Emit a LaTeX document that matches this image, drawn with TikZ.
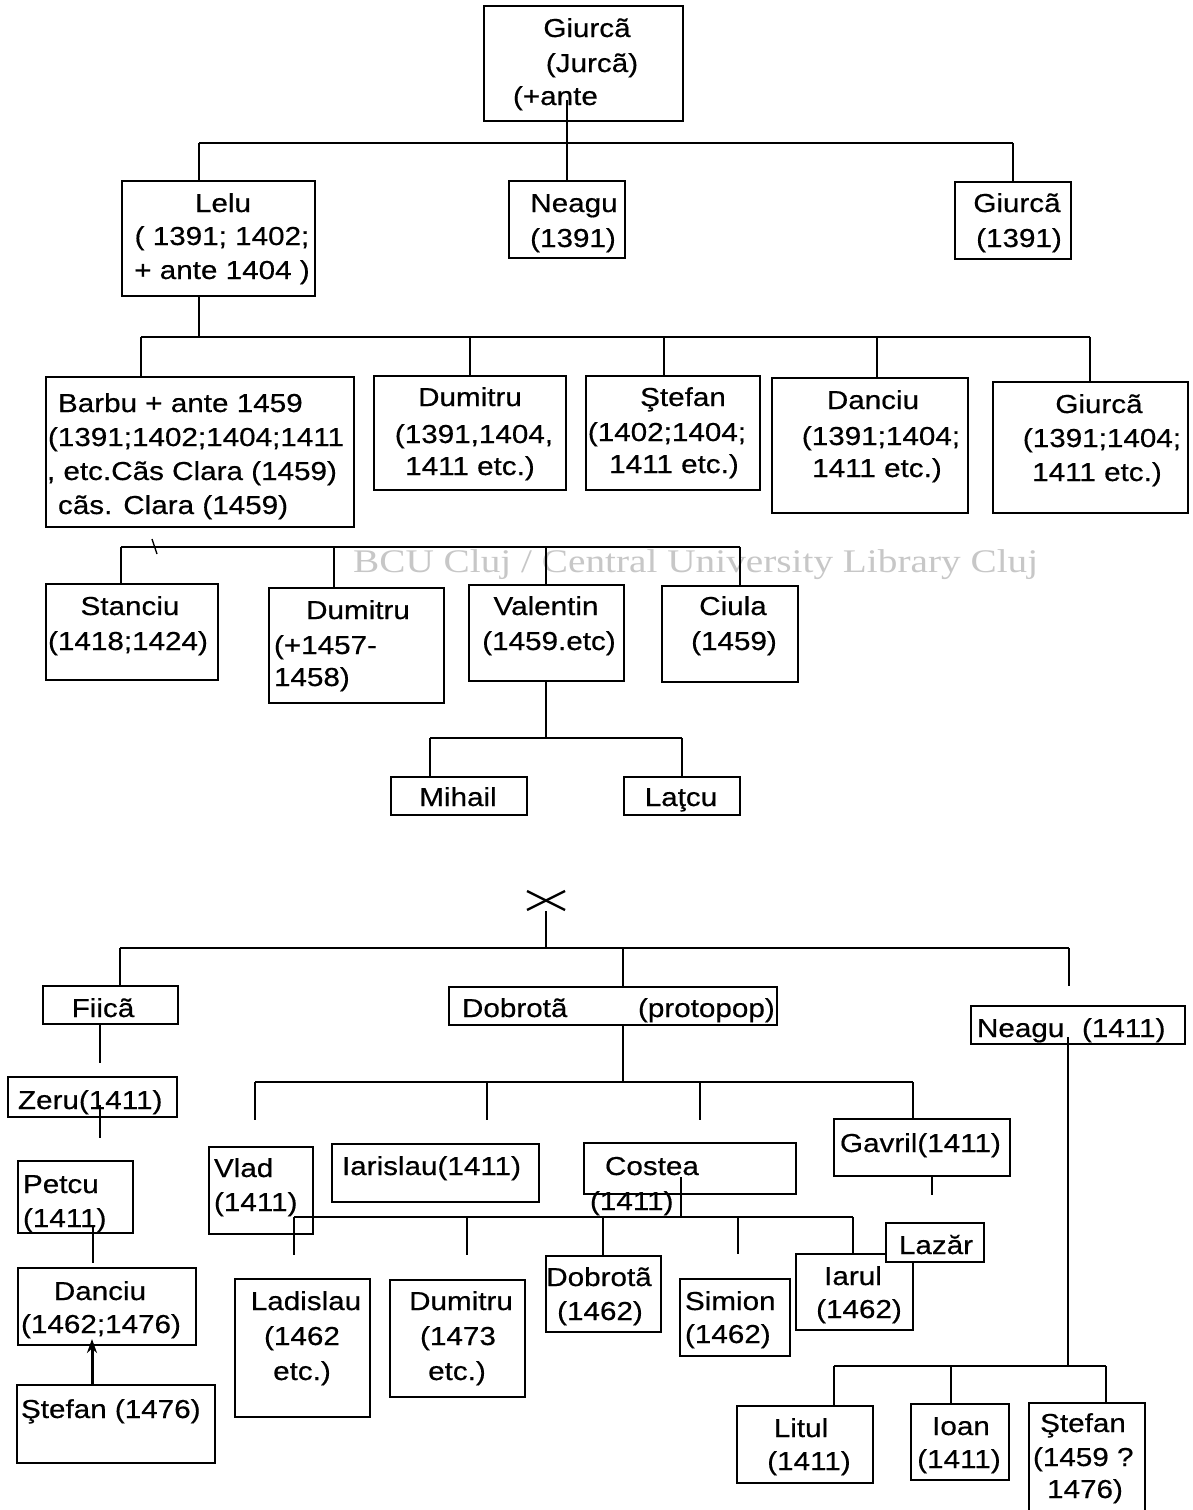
\documentclass[tikz,border=0pt]{standalone}
\usepackage{fontspec}
\setmainfont{Liberation Sans}[FakeStretch=1.14,FakeBold=0.5]
\newfontfamily\wmfont{Liberation Serif}[FakeStretch=1.19]
\usetikzlibrary{arrows.meta,calc}
\newcounter{tn}
\newcommand\tx[3]{\stepcounter{tn}\node[txt,anchor=base] (t\arabic{tn}) at (#1,#2) {#3};}
\newcommand\txl[3]{\stepcounter{tn}\node[txt,anchor=base west] (t\arabic{tn}) at (#1,#2) {#3};}
\newcommand\bx[6][]{\node[bx,#1,minimum width={(#5)-(#3)},minimum height={(#6)-(#4)}] (#2) at ({((#3)+(#5))/2},{((#4)+(#6))/2}) {};}
\tikzset{
  bx/.style={draw,line width=1.6pt,inner sep=0pt,outer sep=0pt,rectangle},
  txt/.style={inner sep=0pt,outer sep=0pt,font=\fontsize{26}{34}\selectfont},
  cn/.style={line width=1.4pt},
}
\begin{document}
\begin{tikzpicture}[x=1pt,y=-1pt]
\useasboundingbox (0,0) rectangle (1192,1510);
\fill[white] (0,0) rectangle (1192,1510);
\clip (0,0) rectangle (1192,1510);

% watermark
\node[font=\wmfont\fontsize{33}{40}\selectfont,text=black!22,anchor=base west,inner sep=0pt] (wm) at (353,572) {BCU Cluj / Central University Library Cluj};

% ---------- top tree ----------
\bx{G0}{484}{6}{683}{121}
\tx{587}{37}{Giurcã}
\tx{592}{72}{(Jurcã)}
\txl{513}{105}{(+ante}

\bx{Lelu}{122}{181}{315}{296}
\tx{223}{212}{Lelu}
\tx{222}{245}{( 1391; 1402;}
\tx{222}{279}{+ ante 1404 )}

\bx{Neagu}{509}{181}{625}{258}
\tx{574}{212}{Neagu}
\tx{573}{247}{(1391)}

\bx{GiA}{955}{182}{1071}{259}
\tx{1017}{212}{Giurcã}
\tx{1019}{247}{(1391)}

\coordinate (b1l) at (199,143);
\coordinate (b1r) at (1013,143);
\coordinate (g0s) at (567,100);
\draw[cn] (b1l) -- (b1r);
\draw[cn] (b1l) -- (b1l |- Lelu.north);
\draw[cn] (b1r) -- (b1r |- GiA.north);
\draw[cn] (g0s) -- (g0s |- Neagu.north);

% second row
\bx{Barbu}{46}{377}{354}{527}
\txl{58}{412}{Barbu + ante 1459}
\txl{48}{446}{(1391;1402;1404;1411}
\txl{47}{480}{, etc.Cãs Clara (1459)}
\txl{58}{514}{cãs. Clara (1459)}

\bx{DumA}{374}{376}{566}{490}
\tx{470}{406}{Dumitru}
\tx{474}{443}{(1391,1404,}
\tx{470}{475}{1411 etc.)}

\bx{StefA}{586}{376}{760}{490}
\tx{683}{406}{Ştefan}
\tx{667}{441}{(1402;1404;}
\tx{674}{473}{1411 etc.)}

\bx{DancA}{772}{378}{968}{513}
\tx{873}{409}{Danciu}
\tx{881}{445}{(1391;1404;}
\tx{877}{477}{1411 etc.)}

\bx{GiB}{993}{382}{1188}{513}
\tx{1099}{413}{Giurcã}
\tx{1102}{447}{(1391;1404;}
\tx{1097}{481}{1411 etc.)}

\coordinate (b2) at (199,337);
\coordinate (b2l) at (141,337);
\coordinate (b2r) at (1090,337);
\coordinate (b2s) at (664,337);
\coordinate (b2d) at (877,337);
\draw[cn] (b2 |- Lelu.south) -- (b2);
\draw[cn] (b2l) -- (b2r);
\draw[cn] (b2l) -- (b2l |- Barbu.north);
\draw[cn] (DumA.north |- b2) -- (DumA.north);
\draw[cn] (b2s) -- (b2s |- StefA.north);
\draw[cn] (b2d) -- (b2d |- DancA.north);
\draw[cn] (b2r) -- (b2r |- GiB.north);

% third row
\bx{Stan}{46}{584}{218}{680}
\tx{130}{615}{Stanciu}
\tx{128}{650}{(1418;1424)}

\bx{DumB}{269}{588}{444}{703}
\tx{358}{619}{Dumitru}
\txl{274}{654}{(+1457-}
\txl{274}{686}{1458)}

\bx{Val}{469}{585}{624}{681}
\tx{546}{615}{Valentin}
\tx{549}{650}{(1459.etc)}

\bx{Ciula}{662}{586}{798}{682}
\tx{733}{615}{Ciula}
\tx{734}{650}{(1459)}

\coordinate (b3l) at (121,547);
\coordinate (b3r) at (740,547);
\coordinate (b3d) at (334,547);
\coordinate (b3v) at (546,547);
\coordinate (tk1) at (152,539);
\coordinate (tk2) at (157,554);
\draw[cn] (b3l) -- (b3r);
\draw[cn] (tk1) -- (tk2);
\draw[cn] (b3l) -- (b3l |- Stan.north);
\draw[cn] (b3d) -- (b3d |- DumB.north);
\draw[cn] (b3v) -- (b3v |- Val.north);
\draw[cn] (b3r) -- (b3r |- Ciula.north);

% Valentin's children
\bx{Mih}{391}{777}{527}{815}
\tx{458}{806}{Mihail}
\bx{Lat}{624}{777}{740}{815}
\tx{681}{806}{Laţcu}

\coordinate (b4) at (546,738);
\coordinate (b4l) at (430,738);
\coordinate (b4r) at (682,738);
\draw[cn] (b4 |- Val.south) -- (b4);
\draw[cn] (b4l) -- (b4r);
\draw[cn] (b4l) -- (b4l |- Mih.north);
\draw[cn] (b4r) -- (b4r |- Lat.north);

% ---------- bottom tree ----------
\coordinate (xm) at (546,900);
\draw[line width=2.4pt] ($(xm)+(-19,-9)$) -- ($(xm)+(19,10)$);
\draw[line width=2.4pt] ($(xm)+(-19,10)$) -- ($(xm)+(19,-9)$);

\bx{Fiica}{43}{986}{178}{1024}
\tx{103}{1017}{Fiicã}

\bx{DobA}{449}{987}{777}{1025}
\txl{462}{1017}{Dobrotã}
\txl{638}{1017}{(protopop)}

\bx{NeagB}{971}{1006}{1185}{1044}
\txl{977}{1037}{Neagu}
\txl{1082}{1037}{(1411)}

\coordinate (b5) at (546,948);
\coordinate (b5t) at (546,911);
\coordinate (b5l) at (120,948);
\coordinate (b5r) at (1069,948);
\coordinate (b5d) at (623,948);
\coordinate (b5e) at (1069,986);
\draw[cn] (b5t) -- (b5);
\draw[cn] (b5l) -- (b5r);
\draw[cn] (b5l) -- (b5l |- Fiica.north);
\draw[cn] (b5d) -- (b5d |- DobA.north);
\draw[cn] (b5r) -- (b5e);

% left line
\bx{Zeru}{8}{1077}{177}{1117}
\txl{18}{1109}{Zeru(1411)}
\bx{Petcu}{18}{1161}{133}{1233}
\txl{23}{1193}{Petcu}
\txl{23}{1227}{(1411)}
\bx{DancB}{18}{1268}{196}{1345}
\tx{100}{1300}{Danciu}
\tx{101}{1333}{(1462;1476)}
\bx{StefB}{17}{1385}{215}{1463}
\txl{21}{1418}{Ştefan (1476)}

\coordinate (f1) at (100,1063);
\coordinate (z0) at (100,1105);
\coordinate (z1) at (100,1138);
\coordinate (p0) at (93,1225);
\coordinate (p1) at (93,1263);
\coordinate (ar) at (92,1339);
\draw[cn] (f1 |- Fiica.south) -- (f1);
\draw[cn] (z0) -- (z1);
\draw[cn] (p0) -- (p1);
\draw[line width=3pt,-{Stealth[length=14pt,width=10pt]}] (ar |- StefB.north) -- (ar);

% Dobrota's children
\bx{Vlad}{209}{1147}{313}{1234}
\txl{214}{1177}{Vlad}
\txl{214}{1211}{(1411)}
\bx{Iar}{332}{1144}{539}{1202}
\txl{342}{1175}{Iarislau(1411)}
\bx{Cost}{584}{1143}{796}{1194}
\txl{605}{1175}{Costea}
\txl{590}{1210}{(1411)}
\bx{Gav}{834}{1119}{1010}{1176}
\txl{840}{1152}{Gavril(1411)}

\coordinate (b6) at (623,1082);
\coordinate (b6l) at (255,1082);
\coordinate (b6r) at (913,1082);
\coordinate (b6a) at (487,1082);
\coordinate (b6b) at (700,1082);
\coordinate (s6l) at (255,1120);
\coordinate (s6a) at (487,1120);
\coordinate (s6b) at (700,1120);
\coordinate (gv) at (932,1195);
\draw[cn] (b6 |- DobA.south) -- (b6);
\draw[cn] (b6l) -- (b6r);
\draw[cn] (b6l) -- (s6l);
\draw[cn] (b6a) -- (s6a);
\draw[cn] (b6b) -- (s6b);
\draw[cn] (b6r) -- (b6r |- Gav.north);
\draw[cn] (gv |- Gav.south) -- (gv);

% grandchildren
\bx{Lad}{235}{1279}{370}{1417}
\tx{306}{1310}{Ladislau}
\tx{302}{1345}{(1462}
\tx{302}{1380}{etc.)}
\bx{DumC}{390}{1280}{525}{1397}
\tx{461}{1310}{Dumitru}
\tx{458}{1345}{(1473}
\tx{457}{1380}{etc.)}
\bx{DobB}{546}{1256}{661}{1332}
\tx{599}{1286}{Dobrotã}
\tx{600}{1320}{(1462)}
\bx{Sim}{680}{1279}{790}{1356}
\txl{685}{1310}{Simion}
\txl{685}{1343}{(1462)}
\bx{Iarul}{796}{1254}{913}{1330}
\tx{853}{1285}{Iarul}
\tx{859}{1318}{(1462)}
\bx[fill=white]{Laz}{886}{1223}{984}{1262}
\tx{936}{1254}{Lazăr}

\coordinate (b7l) at (294,1217);
\coordinate (b7r) at (853,1217);
\coordinate (b7c) at (681,1217);
\coordinate (c7) at (681,1177);
\coordinate (b7a) at (467,1217);
\coordinate (b7b) at (603,1217);
\coordinate (b7s) at (738,1217);
\coordinate (e7l) at (294,1255);
\coordinate (e7a) at (467,1255);
\coordinate (e7s) at (738,1254);
\draw[cn] (b7l) -- (b7r);
\draw[cn] (c7) -- (b7c);
\draw[cn] (b7l) -- (e7l);
\draw[cn] (b7a) -- (e7a);
\draw[cn] (b7b) -- (b7b |- DobB.north);
\draw[cn] (b7s) -- (e7s);
\draw[cn] (b7r) -- (b7r |- Iarul.north);

% Neagu's children
\bx{Lit}{737}{1406}{873}{1483}
\tx{801}{1437}{Litul}
\tx{809}{1470}{(1411)}
\bx{Ioan}{911}{1404}{1009}{1480}
\tx{961}{1435}{Ioan}
\tx{959}{1468}{(1411)}
\bx{StefC}{1029}{1403}{1145}{1540}
\tx{1083}{1432}{Ştefan}
\txl{1033}{1466}{(1459 ?}
\tx{1085}{1498}{1476)}

\coordinate (n0) at (1068,1037);
\coordinate (b8) at (1068,1366);
\coordinate (b8l) at (834,1366);
\coordinate (b8r) at (1106,1366);
\coordinate (b8m) at (951,1366);
\draw[cn] (n0) -- (b8);
\draw[cn] (b8l) -- (b8r);
\draw[cn] (b8l) -- (b8l |- Lit.north);
\draw[cn] (b8m) -- (b8m |- Ioan.north);
\draw[cn] (b8r) -- (b8r |- StefC.north);
\end{tikzpicture}
\end{document}
